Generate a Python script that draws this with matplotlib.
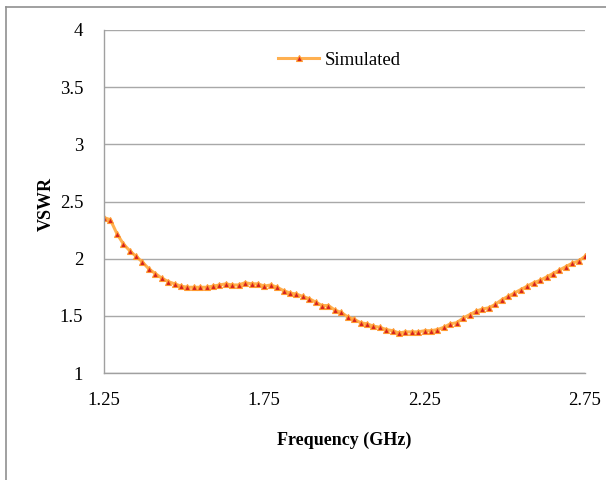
import matplotlib
matplotlib.use("Agg")
import matplotlib.pyplot as plt
from matplotlib.lines import Line2D
import numpy as np

# frequency points, 1.25 to 2.75 GHz every 0.02 GHz
freq_start = 1.25
freq_step = 0.02
vswr = [2.36, 2.34, 2.22, 2.13, 2.07, 2.02, 1.97, 1.91, 1.87, 1.83,
        1.80, 1.78, 1.76, 1.75, 1.75, 1.75, 1.75, 1.76, 1.77, 1.78,
        1.77, 1.77, 1.79, 1.78, 1.78, 1.76, 1.77, 1.75, 1.72, 1.70,
        1.69, 1.67, 1.65, 1.62, 1.59, 1.59, 1.55, 1.53, 1.49, 1.47,
        1.44, 1.43, 1.41, 1.40, 1.38, 1.37, 1.35, 1.36, 1.36, 1.36,
        1.37, 1.37, 1.38, 1.40, 1.43, 1.44, 1.48, 1.51, 1.54, 1.56,
        1.57, 1.60, 1.64, 1.67, 1.70, 1.73, 1.76, 1.79, 1.81, 1.84,
        1.87, 1.90, 1.93, 1.96, 1.98, 2.02]
freq = [round(freq_start + freq_step * i, 2) for i in range(len(vswr))]

x_ticks = [1.25, 1.75, 2.25, 2.75]
y_ticks = [1, 1.5, 2, 2.5, 3, 3.5, 4]

plt.rcParams['font.family'] = ['Liberation Serif', 'DejaVu Serif']

fig = plt.figure(figsize=(6.06, 4.80), dpi=100)
ax = fig.add_axes([104 / 606, 1 - 373 / 480, 481 / 606, 343 / 480])

ax.plot(freq, vswr, color='#FFB050', linewidth=2.2, marker='^', markersize=5,
        markerfacecolor='#D42020', markeredgecolor='#FF9A30',
        markeredgewidth=0.8, label='Simulated')

ax.set_xlim(1.25, 2.75)
ax.set_ylim(1, 4)
ax.set_xticks(x_ticks)
ax.set_xticklabels(['1.25', '1.75', '2.25', '2.75'])
ax.set_yticks(y_ticks)
ax.set_yticklabels(['1', '1.5', '2', '2.5', '3', '3.5', '4'])
ax.tick_params(length=0, labelsize=13.5)
ax.tick_params(axis='x', pad=14)
ax.tick_params(axis='y', pad=15)

ax.grid(True, axis='y', color='#A8A8A8', linewidth=1)
ax.set_axisbelow(True)
for side in ['top', 'right']:
    ax.spines[side].set_visible(False)
for side in ['left', 'bottom']:
    ax.spines[side].set_color('#A0A0A0')
    ax.spines[side].set_linewidth(1)

ax.set_xlabel('Frequency (GHz)', fontsize=13, fontweight='bold')
ax.xaxis.set_label_coords(0.5, -0.172)
ax.set_ylabel('VSWR', fontsize=13, fontweight='bold')
ax.yaxis.set_label_coords(-0.102, 0.493)

ax.legend(loc='center left', bbox_to_anchor=(278 / 606, 1 - 60 / 480),
          bbox_transform=fig.transFigure, frameon=False, fontsize=13.5,
          borderpad=0, borderaxespad=0, handlelength=2.2, handletextpad=0.3)

# outer chart border (runs off the right and bottom of the picture)
fig.add_artist(Line2D([6 / 606, 6 / 606], [0, 1 - 7 / 480],
                      transform=fig.transFigure, color='#909090', linewidth=1.2))
fig.add_artist(Line2D([6 / 606, 1], [1 - 7 / 480, 1 - 7 / 480],
                      transform=fig.transFigure, color='#909090', linewidth=1.2))

fig.savefig('out.png', dpi=100)
